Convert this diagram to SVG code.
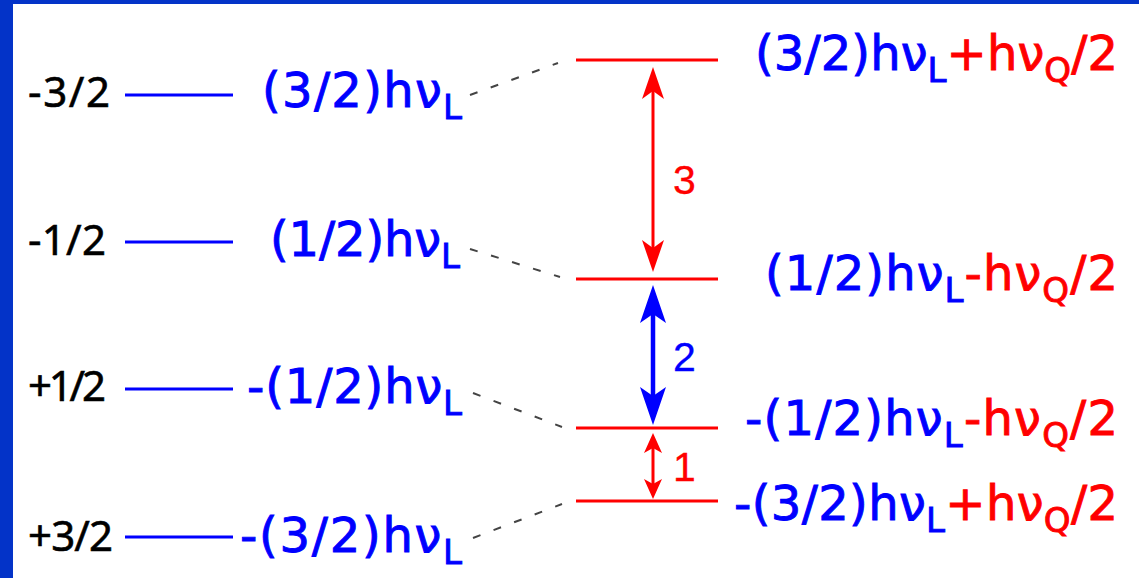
<svg xmlns="http://www.w3.org/2000/svg" width="1139" height="578" viewBox="0 0 1139 578">
<style>
.bk{font-family:"Noto Sans","DejaVu Sans",sans-serif;font-size:42px;fill:#000;stroke:#000;stroke-width:0.6}
.en{font-family:"DejaVu Sans","Noto Sans",sans-serif;font-size:48px;stroke-width:0.9}
.sub{font-size:34px}
.b{fill:#0000ff;stroke:#0000ff}
.r{fill:#ff0000;stroke:#ff0000}
.num{font-family:"Liberation Sans",Arial,sans-serif;font-size:41px;stroke-width:0.3}
.lvlL{stroke:#0000ff;stroke-width:3}
.lvlR{stroke:#ff0000;stroke-width:3}
.dash{stroke:#444;stroke-width:2;stroke-dasharray:8 14;fill:none}
</style>
<defs>
<marker id="hRedBig" viewBox="0 0 32 22" refX="22" refY="11" markerWidth="32" markerHeight="22" markerUnits="userSpaceOnUse" orient="auto-start-reverse">
<path d="M0,0 L32,11 L0,22 L8,11 Z" fill="#ff0000"/>
</marker>
<marker id="hBlue" viewBox="0 0 38 26" refX="26" refY="13" markerWidth="38" markerHeight="26" markerUnits="userSpaceOnUse" orient="auto-start-reverse">
<path d="M0,0 L38,13 L0,26 L9,13 Z" fill="#0000ff"/>
</marker>
<marker id="hRedSmall" viewBox="0 0 20 18" refX="12" refY="9" markerWidth="20" markerHeight="18" markerUnits="userSpaceOnUse" orient="auto-start-reverse">
<path d="M0,0 L20,9 L0,18 L5,9 Z" fill="#ff0000"/>
</marker>
</defs>
<rect x="0" y="0" width="1139" height="578" fill="#ffffff"/>
<rect x="0" y="0" width="1139" height="4" fill="#0333c8"/>
<rect x="0" y="0" width="13" height="578" fill="#0333c8"/>

<g id="zeeman-m-3-2">
<text class="bk" x="28" y="107" textLength="82" lengthAdjust="spacing">-3/2</text>
<line class="lvlL" x1="125" y1="95" x2="233" y2="95"/>
<text class="en b" x="262" y="107" textLength="200" lengthAdjust="spacing">(3/2)hν<tspan class="sub" dy="12">L</tspan></text>
</g>
<g id="zeeman-m-1-2">
<text class="bk" x="28" y="255" textLength="78" lengthAdjust="spacing">-1/2</text>
<line class="lvlL" x1="125" y1="242" x2="233" y2="242"/>
<text class="en b" x="270" y="256" textLength="190" lengthAdjust="spacing">(1/2)hν<tspan class="sub" dy="12">L</tspan></text>
</g>
<g id="zeeman-p-1-2">
<text class="bk" x="28" y="401" textLength="78" lengthAdjust="spacing">+1/2</text>
<line class="lvlL" x1="125" y1="389" x2="233" y2="389"/>
<text class="en b" x="247" y="403" textLength="215" lengthAdjust="spacing">-(1/2)hν<tspan class="sub" dy="12">L</tspan></text>
</g>
<g id="zeeman-p-3-2">
<text class="bk" x="28" y="551" textLength="85" lengthAdjust="spacing">+3/2</text>
<line class="lvlL" x1="125" y1="537" x2="233" y2="537"/>
<text class="en b" x="240" y="552" textLength="222" lengthAdjust="spacing">-(3/2)hν<tspan class="sub" dy="12">L</tspan></text>
</g>

<g id="quad-m-3-2">
<line class="lvlR" x1="576" y1="60" x2="718" y2="60"/>
<text class="en" x="755" y="70" textLength="363" lengthAdjust="spacing"><tspan class="b">(3/2)hν</tspan><tspan class="b sub" dy="12">L</tspan><tspan class="r" dy="-12">+hν</tspan><tspan class="r sub" dy="12">Q</tspan><tspan class="r" dy="-12">/2</tspan></text>
</g>
<g id="quad-m-1-2">
<line class="lvlR" x1="576" y1="279" x2="718" y2="279"/>
<text class="en" x="765" y="290" textLength="353" lengthAdjust="spacing"><tspan class="b">(1/2)hν</tspan><tspan class="b sub" dy="12">L</tspan><tspan class="r" dy="-12">-hν</tspan><tspan class="r sub" dy="12">Q</tspan><tspan class="r" dy="-12">/2</tspan></text>
</g>
<g id="quad-p-1-2">
<line class="lvlR" x1="576" y1="428" x2="718" y2="428"/>
<text class="en" x="745" y="435" textLength="373" lengthAdjust="spacing"><tspan class="b">-(1/2)hν</tspan><tspan class="b sub" dy="12">L</tspan><tspan class="r" dy="-12">-hν</tspan><tspan class="r sub" dy="12">Q</tspan><tspan class="r" dy="-12">/2</tspan></text>
</g>
<g id="quad-p-3-2">
<line class="lvlR" x1="576" y1="501" x2="718" y2="501"/>
<text class="en" x="734" y="520" textLength="384" lengthAdjust="spacing"><tspan class="b">-(3/2)hν</tspan><tspan class="b sub" dy="12">L</tspan><tspan class="r" dy="-12">+hν</tspan><tspan class="r sub" dy="12">Q</tspan><tspan class="r" dy="-12">/2</tspan></text>
</g>

<g id="connectors">
<line class="dash" x1="470" y1="95" x2="558" y2="63"/>
<line class="dash" x1="470" y1="249" x2="560" y2="277"/>
<line class="dash" x1="473" y1="393" x2="562" y2="427"/>
<line class="dash" x1="473" y1="538" x2="562" y2="504"/>
<line x1="653" y1="77" x2="653" y2="262" stroke="#ff0000" stroke-width="3" marker-start="url(#hRedBig)" marker-end="url(#hRedBig)"/>
<text class="num r" x="673" y="194">3</text>
<line x1="653" y1="297" x2="653" y2="413" stroke="#0000ff" stroke-width="4.5" marker-start="url(#hBlue)" marker-end="url(#hBlue)"/>
<text class="num b" x="673" y="371">2</text>
<line x1="653" y1="441" x2="653" y2="491" stroke="#ff0000" stroke-width="3" marker-start="url(#hRedSmall)" marker-end="url(#hRedSmall)"/>
<text class="num r" x="673" y="481">1</text>
</g>
</svg>
